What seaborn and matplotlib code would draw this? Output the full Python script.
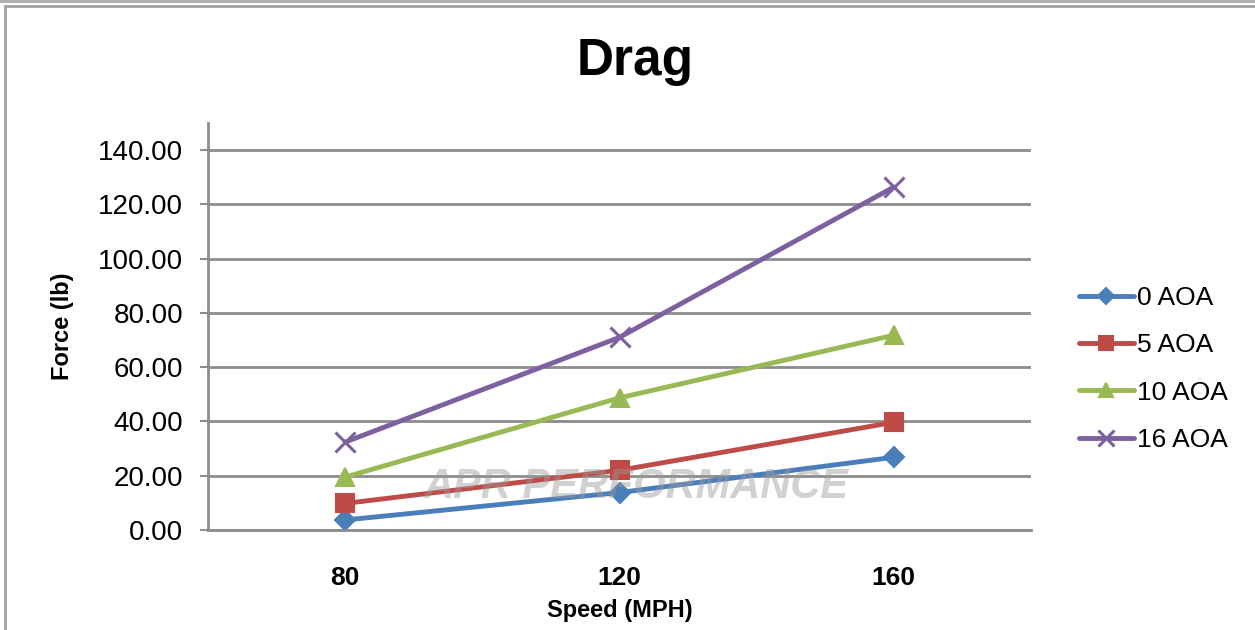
import matplotlib
matplotlib.use("Agg")
import matplotlib.pyplot as plt
import matplotlib.patches as mpatches
import pandas as pd
import seaborn as sns

speeds = ["80", "120", "160"]
series_names = ["0 AOA", "5 AOA", "10 AOA", "16 AOA"]
aoa_0 = [3.7, 13.8, 26.8]
aoa_5 = [9.8, 22.0, 39.7]
aoa_10 = [19.5, 48.7, 71.8]
aoa_16 = [32.4, 71.0, 126.4]
y_ticks = [0, 20, 40, 60, 80, 100, 120, 140]

colors = ["#4A7EBB", "#BE4B48", "#98B954", "#7D60A0"]
markers = ["D", "s", "^", "x"]
marker_sizes = [10, 13, 13, 14]

df = pd.DataFrame({
    "speed": speeds * 4,
    "force": aoa_0 + aoa_5 + aoa_10 + aoa_16,
    "series": [s for s in series_names for _ in speeds],
})

sns.set_theme(style="white")
plt.rcParams["font.family"] = ["Liberation Sans", "DejaVu Sans"]
plt.rcParams["text.color"] = "black"
plt.rcParams["axes.labelcolor"] = "black"
plt.rcParams["xtick.labelcolor"] = "black"
plt.rcParams["ytick.labelcolor"] = "black"

fig = plt.figure(figsize=(12.55, 6.3), dpi=100)
ax = fig.add_axes([208 / 1255, 1 - 530 / 630, 823 / 1255, 407 / 630])

for name, c, m, ms in zip(series_names, colors, markers, marker_sizes):
    sub = df[df["series"] == name]
    sns.lineplot(data=sub, x="speed", y="force", ax=ax, color=c, marker=m,
                 markersize=ms, markeredgewidth=1.5 if m != "x" else 2.2,
                 markeredgecolor=c, linewidth=3.5, label=name, sort=False)

ax.set_xlim(-0.5, 2.5)
ax.set_ylim(0, 150)
ax.set_yticks(y_ticks)
ax.set_yticklabels([f"{v:.2f}" for v in y_ticks], fontsize=20)
ax.set_xticks(range(len(speeds)))
ax.set_xticklabels(speeds, fontsize=19, fontweight="bold")
ax.yaxis.grid(True, color="#8c8c8c", linewidth=2)
ax.set_axisbelow(True)
ax.tick_params(axis="y", length=6, width=1.5, color="#8c8c8c", pad=12, direction="out", left=True)
ax.tick_params(axis="x", length=0, pad=26)
for side in ["top", "right"]:
    ax.spines[side].set_visible(False)
for side in ["left", "bottom"]:
    ax.spines[side].set_color("#8c8c8c")
    ax.spines[side].set_linewidth(2)

ax.set_xlabel("Speed (MPH)", fontsize=17, fontweight="bold", va="center")
ax.set_ylabel("Force (lb)", fontsize=17, fontweight="bold", va="center")
ax.xaxis.set_label_coords(0.5, -0.197)
ax.yaxis.set_label_coords(-0.177, 0.5)

fig.text(635 / 1255, 1 - 62 / 630, "Drag", ha="center", va="center",
         fontsize=37, fontweight="bold")

# faint watermark
ax.text(0.52, 0.105, "APR PERFORMANCE", transform=ax.transAxes, ha="center",
        va="center", fontsize=30, fontweight="bold", style="italic",
        color="#9a9a9a", alpha=0.45, zorder=5)

leg = ax.legend(loc="center left", bbox_to_anchor=(1068 / 1255, 1 - 369 / 630),
                bbox_transform=fig.transFigure, frameon=False, fontsize=19,
                handlelength=2.1, handletextpad=0.1, labelspacing=0.88,
                borderaxespad=0, markerscale=0.8)

fig.patches.append(mpatches.Rectangle((5 / 1255, -0.05), 1.2, 1 - 6 / 630 + 0.05,
                                      transform=fig.transFigure, fill=False,
                                      edgecolor="#a0a0a0", linewidth=2))
fig.patches.append(mpatches.Rectangle((0, 1 - 3 / 630), 1, 3 / 630,
                                      transform=fig.transFigure, fill=True,
                                      facecolor="#b0b0b0", edgecolor="none"))

fig.savefig("out.png", dpi=100)
